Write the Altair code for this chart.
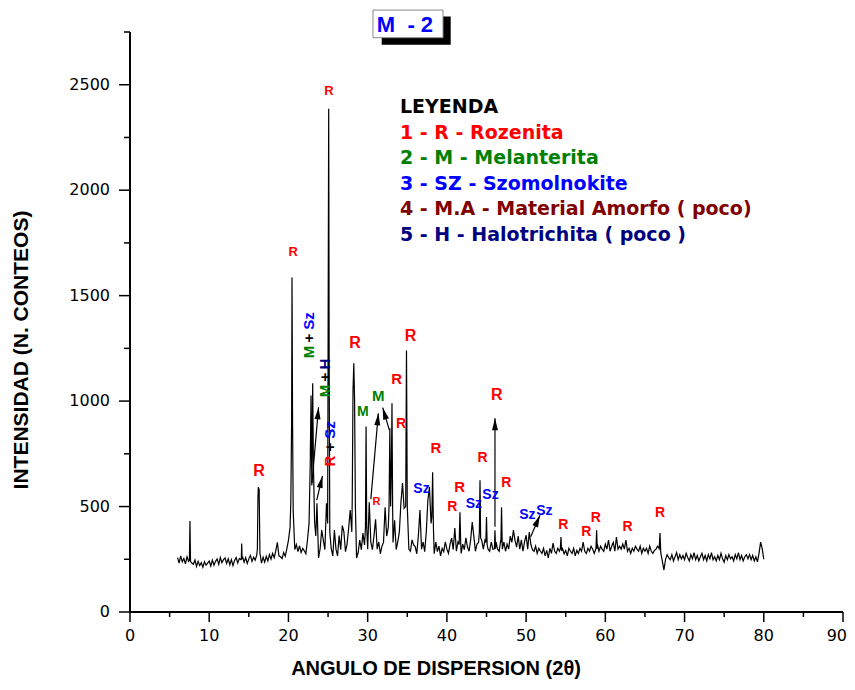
import math
import altair as alt
import pandas as pd

RED, GREEN, BLUE, BROWN, NAVY, BLACK = "#ff0000", "#008000", "#0000ff", "#800000", "#000080", "#000000"

# ---------------- data ----------------
# background counts, 2θ = 6.0, 6.2, 6.4 ... 80.0
bg_start = 6.0
bg_step = 0.2
bg_counts = [
    258, 232, 266, 238, 254, 228, 262, 240, 248, 232,  # 6
    226, 246, 216, 240, 220, 234, 212, 238, 222, 232,  # 8
    242, 218, 246, 222, 240, 252, 226, 258, 234, 248,  # 10
    256, 230, 252, 224, 248, 220, 244, 258, 232, 254,  # 12
    248, 264, 236, 258, 230, 252, 268, 240, 260, 246,  # 14
    270, 300, 280, 232, 260, 236, 264, 242, 272, 250,  # 16
    278, 258, 290, 330, 266, 262, 254, 282, 264, 300,  # 18
    340, 400, 480, 430, 296, 320, 286, 314, 282, 302,  # 20
    290, 276, 340, 340, 420, 600, 420, 300, 516, 256,  # 22
    300, 388, 341, 296, 516, 440, 330, 300, 266, 388,  # 24
    298, 266, 362, 296, 410, 380, 286, 322, 398, 483,  # 26
    380, 800, 600, 256, 282, 341, 296, 374, 318, 400,  # 28
    298, 520, 330, 296, 362, 440, 298, 332, 276, 312,  # 30
    330, 497, 360, 400, 500, 430, 330, 435, 296, 332,  # 32
    380, 520, 611, 492, 500, 330, 298, 288, 342, 318,  # 34
    310, 276, 362, 483, 298, 332, 286, 380, 530, 592,  # 36
    420, 300, 276, 332, 286, 312, 266, 302, 286, 332,  # 38
    298, 278, 322, 350, 296, 398, 288, 332, 298, 278,  # 40
    322, 296, 352, 308, 288, 342, 426, 360, 288, 322,  # 42
    330, 500, 340, 298, 340, 380, 298, 288, 332, 298,  # 44
    278, 332, 298, 288, 342, 298, 332, 288, 322, 298,  # 46
    360, 330, 388, 340, 308, 360, 298, 342, 288, 332,  # 48
    364, 298, 379, 320, 296, 288, 312, 278, 302, 288,  # 50
    278, 302, 266, 292, 256, 302, 278, 327, 288, 278,  # 52
    302, 288, 340, 300, 276, 292, 266, 302, 288, 278,  # 54
    302, 266, 292, 278, 302, 288, 331, 288, 278, 302,  # 56
    288, 312, 298, 278, 300, 320, 288, 312, 298, 288,  # 58
    322, 298, 341, 288, 312, 330, 288, 355, 298, 312,  # 60
    298, 322, 298, 341, 288, 302, 278, 302, 288, 312,  # 62
    298, 288, 312, 278, 302, 288, 302, 278, 312, 288,  # 64
    278, 292, 298, 312, 350, 290, 240, 199, 250, 272,  # 66
    258, 248, 272, 242, 262, 282, 248, 272, 252, 268,  # 68
    248, 278, 258, 242, 272, 252, 282, 248, 268, 242,  # 70
    262, 278, 248, 268, 242, 272, 252, 282, 248, 262,  # 72
    242, 268, 248, 278, 252, 236, 268, 248, 272, 252,  # 74
    262, 242, 272, 252, 282, 248, 268, 242, 262, 272,  # 76
    252, 272, 248, 268, 242, 262, 238, 278, 331, 300,  # 78
    250,                                               # 80
]

# diffraction peaks: (2θ, counts) points of each reflection
peak_groups = [
    [(7.50, 245), (7.57, 432), (7.64, 240)],
    [(14.05, 250), (14.10, 325), (14.15, 250)],
    [(16.08, 300), (16.15, 540), (16.20, 592), (16.25, 560), (16.30, 585), (16.38, 350)],
    [(20.30, 520), (20.40, 900), (20.45, 1586), (20.52, 900), (20.60, 480)],
    [(22.60, 420), (22.75, 700), (22.85, 1027), (22.95, 600), (23.06, 1084), (23.15, 700), (23.30, 427), (23.45, 360)],
    [(24.95, 420), (25.02, 1500), (25.08, 2386), (25.14, 1200), (25.22, 380)],
    [(28.05, 520), (28.15, 1050), (28.25, 1179), (28.35, 1000), (28.45, 500)],
    [(29.72, 400), (29.80, 880), (29.88, 400)],
    [(32.70, 500), (32.80, 871), (32.90, 500), (33.00, 700), (33.07, 990), (33.15, 500)],
    [(34.80, 500), (34.90, 1240), (35.00, 500)],
    [(38.10, 450), (38.20, 663), (38.30, 400)],
    [(41.55, 320), (41.65, 473), (41.75, 320)],
    [(44.10, 380), (44.18, 625), (44.26, 350)],
    [(44.92, 330), (45.00, 450), (45.08, 320)],
    [(46.00, 300), (46.07, 388), (46.14, 300)],
    [(46.82, 330), (46.90, 497), (46.98, 330)],
    [(54.32, 300), (54.40, 355), (54.48, 290)],
    [(58.82, 300), (58.90, 388), (58.98, 300)],
    [(66.80, 300), (66.90, 375), (67.00, 280)],
]

# phase labels: text, colour, 2θ, counts, font size, angle
phase_labels = [
    ("R", RED, 25.1, 2472, 13, 0),
    ("R", RED, 20.6, 1709, 13, 0),
    ("R", RED, 16.3, 668, 16, 0),
    ("R", RED, 28.4, 1274, 16, 0),
    ("M", GREEN, 29.4, 947, 14, 0),
    ("M", GREEN, 31.35, 1023, 15, 0),
    ("R", RED, 31.1, 522, 11, 0),
    ("R", RED, 35.4, 1307, 16, 0),
    ("R", RED, 33.65, 1103, 15, 0),
    ("R", RED, 34.2, 890, 14, 0),
    ("R", RED, 38.6, 776, 15, 0),
    ("Sz", BLUE, 36.8, 582, 14, 0),
    ("R", RED, 41.6, 592, 15, 0),
    ("R", RED, 40.7, 499, 14, 0),
    ("Sz", BLUE, 43.4, 511, 14, 0),
    ("R", RED, 44.5, 729, 14, 0),
    ("Sz", BLUE, 45.5, 554, 14, 0),
    ("R", RED, 46.3, 1027, 16, 0),
    ("R", RED, 47.5, 611, 14, 0),
    ("Sz", BLUE, 50.15, 459, 14, 0),
    ("Sz", BLUE, 52.3, 480, 14, 0),
    ("R", RED, 54.7, 412, 14, 0),
    ("R", RED, 57.6, 380, 14, 0),
    ("R", RED, 58.8, 445, 14, 0),
    ("R", RED, 62.8, 404, 14, 0),
    ("R", RED, 66.9, 468, 14, 0),
    ("M", GREEN, 22.63, 1233, 15, 270),
    ("+", BLACK, 22.63, 1299, 15, 270),
    ("Sz", BLUE, 22.63, 1380, 15, 270),
    ("M", GREEN, 24.61, 1048, 15, 270),
    ("+", BLACK, 24.61, 1114, 15, 270),
    ("H", NAVY, 24.61, 1176, 15, 270),
    ("R", RED, 25.25, 716, 15, 270),
    ("+", BLACK, 25.25, 782, 15, 270),
    ("Sz", BLUE, 25.25, 863, 15, 270),
]

# arrows: from (2θ, counts) to (2θ, counts)
arrows = [
    (22.97, 611, 23.80, 971),
    (23.57, 530, 24.30, 645),
    (30.40, 535, 31.35, 942),
    (32.74, 862, 31.90, 969),
    (46.07, 404, 46.07, 919),
    (50.58, 357, 51.75, 459),
]

legend_lines = [
    ("LEYENDA", BLACK, 2395),
    ("1 - R - Rozenita", RED, 2271),
    ("2 - M - Melanterita", GREEN, 2153),
    ("3 - SZ - Szomolnokite", BLUE, 2029),
    ("4 - M.A - Material Amorfo ( poco)", BROWN, 1911),
    ("5 - H - Halotrichita ( poco )", NAVY, 1788),
]
legend_x = 34.08

x_major = list(range(0, 91, 10))
x_minor = list(range(5, 90, 10))
y_major = [0, 500, 1000, 1500, 2000, 2500]
y_minor = [250, 750, 1250, 1750, 2250, 2750]
x_title = "ANGULO DE DISPERSION (2θ)"
y_title = "INTENSIDAD (N. CONTEOS)"

# ---------------- assemble ----------------
W, H = 713, 580
XMAX, YMAX = 90, 2750
xs = alt.Scale(domain=[0, XMAX], nice=False, zero=False)
ys = alt.Scale(domain=[0, YMAX], nice=False)


def X(f):
    return alt.X(f, scale=xs, axis=None)


def Y(f):
    return alt.Y(f, scale=ys, axis=None)


bg = pd.DataFrame({"t": [round(bg_start + bg_step * i, 2) for i in range(len(bg_counts))],
                   "c": bg_counts})
keep = pd.Series(True, index=bg.index)
for g in peak_groups:
    lo = min(p[0] for p in g)
    hi = max(p[0] for p in g)
    keep &= ~bg["t"].between(lo, hi)
pk = pd.DataFrame([p for g in peak_groups for p in g], columns=["t", "c"])
xrd = pd.concat([bg[keep], pk]).sort_values("t").reset_index(drop=True)

lab_df = pd.DataFrame(phase_labels, columns=["txt", "col", "t", "c", "fs", "ang"])
leg_df = pd.DataFrame(legend_lines, columns=["txt", "col", "c"])
leg_df["t"] = legend_x

pxd, pxc = W / XMAX, H / YMAX
arr_df = pd.DataFrame(arrows, columns=["t1", "c1", "t2", "c2"])
arr_df["ang"] = [math.degrees(math.atan2((r.t2 - r.t1) * pxd, (r.c2 - r.c1) * pxc)) % 360
                 for r in arr_df.itertuples()]

line = alt.Chart(xrd).mark_line(color="black", strokeWidth=1.2).encode(x=X("t:Q"), y=Y("c:Q"))

# ---- hand-drawn axes ----
one = pd.DataFrame({"k": [0]})
x_dom = alt.Chart(one).mark_rule(color="black", strokeWidth=2).encode(
    x=alt.value(-1), x2=alt.value(W), y=alt.value(H))
y_dom = alt.Chart(one).mark_rule(color="black", strokeWidth=2).encode(
    x=alt.value(0), y=alt.value(0), y2=alt.value(H + 1))

xmaj = pd.DataFrame({"v": x_major, "s": [str(v) for v in x_major]})
ymaj = pd.DataFrame({"v": y_major, "s": [str(v) for v in y_major]})
x_ticks = alt.Chart(xmaj).mark_rule(color="black", strokeWidth=1.5).encode(
    x=X("v:Q"), y=alt.value(H), y2=alt.value(H + 10))
y_ticks = alt.Chart(ymaj).mark_rule(color="black", strokeWidth=1.5).encode(
    y=Y("v:Q"), x=alt.value(0), x2=alt.value(-11))
minor_x = alt.Chart(pd.DataFrame({"v": x_minor})).mark_rule(color="black", strokeWidth=1.5).encode(
    x=X("v:Q"), y=alt.value(H), y2=alt.value(H + 5))
minor_y = alt.Chart(pd.DataFrame({"v": y_minor})).mark_rule(color="black", strokeWidth=1.5).encode(
    y=Y("v:Q"), x=alt.value(0), x2=alt.value(-6))
x_lab = alt.Chart(xmaj[xmaj["v"] < XMAX]).mark_text(font="DejaVu Sans", fontSize=16, color="black",
                                                    align="center", baseline="middle").encode(
    x=X("v:Q"), y=alt.value(H + 24), text="s:N")
# last label kept inside the page edge
x_lab_end = alt.Chart(xmaj[xmaj["v"] == XMAX]).mark_text(font="DejaVu Sans", fontSize=16, color="black",
                                                         align="right", dx=4, baseline="middle").encode(
    x=X("v:Q"), y=alt.value(H + 24), text="s:N")
y_lab = alt.Chart(ymaj).mark_text(font="DejaVu Sans", fontSize=16, color="black",
                                  align="right", baseline="middle").encode(
    y=Y("v:Q"), x=alt.value(-20), text="s:N")
x_tit = alt.Chart(pd.DataFrame({"s": [x_title]})).mark_text(
    font="Liberation Sans", fontWeight="bold", fontSize=20, color="black",
    align="center", baseline="middle").encode(x=alt.value(306), y=alt.value(H + 57), text="s:N")
y_tit = alt.Chart(pd.DataFrame({"s": [y_title]})).mark_text(
    font="Liberation Sans", fontWeight="bold", fontSize=21, color="black", angle=270,
    align="center", baseline="middle").encode(x=alt.value(-108), y=alt.value(318), text="s:N")

shafts = alt.Chart(arr_df).mark_rule(color="black", strokeWidth=1.2).encode(
    x=X("t1:Q"), y=Y("c1:Q"), x2="t2:Q", y2="c2:Q")
heads = alt.Chart(arr_df).mark_point(shape="M0,0L0.3,1.2L-0.3,1.2Z", filled=True, color="black",
                                     size=400, opacity=1, strokeWidth=0).encode(
    x=X("t2:Q"), y=Y("c2:Q"), angle=alt.Angle("ang:Q", scale=None))

labels = alt.Chart(lab_df).mark_text(font="Liberation Sans", fontWeight="bold",
                                     align="center", baseline="middle").encode(
    x=X("t:Q"), y=Y("c:Q"),
    text="txt:N", color=alt.Color("col:N", scale=None),
    size=alt.Size("fs:Q", scale=None), angle=alt.Angle("ang:Q", scale=None))

legend = alt.Chart(leg_df).mark_text(font="DejaVu Sans", fontWeight="bold", fontSize=19,
                                     align="left", baseline="middle").encode(
    x=X("t:Q"), y=Y("c:Q"), text="txt:N", color=alt.Color("col:N", scale=None))

# sample tag "M - 2" (box with drop shadow, above the plot)
tag_shadow = pd.DataFrame({"t1": [31.77], "t2": [40.48], "c1": [2689], "c2": [2823]})
tag_box = pd.DataFrame({"t1": [30.67], "t2": [39.51], "c1": [2723], "c2": [2854]})
tag_text = pd.DataFrame({"t": [34.71], "c": [2783], "txt": ["M\u00a0 - 2"]})

shadow = alt.Chart(tag_shadow).mark_rect(color="black").encode(
    x=X("t1:Q"), x2="t2:Q", y=Y("c1:Q"), y2="c2:Q")
box = alt.Chart(tag_box).mark_rect(fill="white", stroke="#888888", strokeWidth=1).encode(
    x=X("t1:Q"), x2="t2:Q", y=Y("c1:Q"), y2="c2:Q")
tag = alt.Chart(tag_text).mark_text(font="Liberation Sans", fontWeight="bold", fontSize=22,
                                    color=BLUE, align="center", baseline="middle").encode(
    x=X("t:Q"), y=Y("c:Q"), text="txt:N")

chart = alt.layer(line, x_dom, y_dom, x_ticks, y_ticks, minor_x, minor_y, x_lab, x_lab_end, y_lab,
                  x_tit, y_tit, shafts, heads, labels, legend, shadow, box, tag).properties(
    width=W, height=H,
    autosize=alt.AutoSizeParams(type="none"),
    padding={"left": 122, "top": 24, "right": 4, "bottom": 70},
).configure_view(strokeWidth=0)

chart.save("out.html", embed_options={"renderer": "svg", "actions": False})
